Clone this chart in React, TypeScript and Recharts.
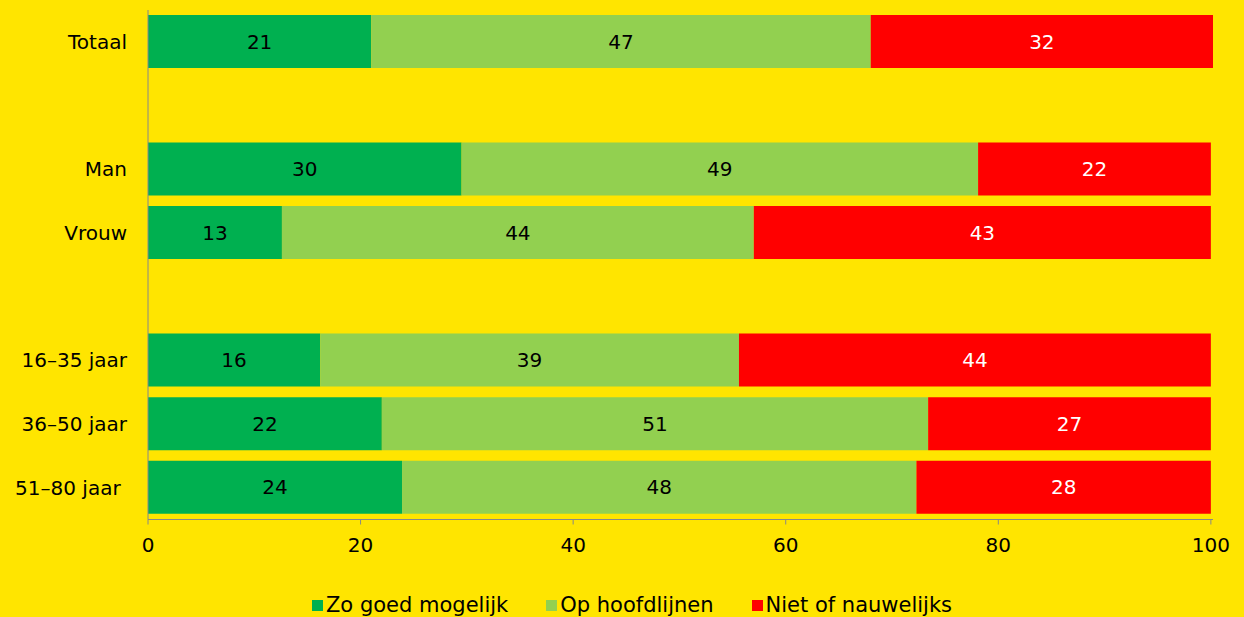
import React from "react"
import { BarChart, Bar, XAxis, YAxis, Legend, LabelList } from "recharts"

const categories = ["Totaal", " ", "Man", "Vrouw", "  ", "16–35 jaar", "36–50 jaar", "51–80 jaar\u00A0"]
const zoGoed = [21.0, null, 29.5, 12.6, null, 16.2, 22.0, 23.9]
const opHoofdlijnen = [47.0, null, 48.6, 44.4, null, 39.4, 51.4, 48.4]
const nietOfNauwelijks = [32.2, null, 21.9, 43.0, null, 44.4, 26.6, 27.7]
const xTicks = [0, 20, 40, 60, 80, 100]

const series = [
  { key: "zo", name: "Zo goed mogelijk", color: "#00B050", label: "#000000" },
  { key: "op", name: "Op hoofdlijnen", color: "#92D050", label: "#000000" },
  { key: "niet", name: "Niet of nauwelijks", color: "#FF0000", label: "#FFFFFF" },
]

const data = categories.map((name, i) => ({
  name,
  zo: zoGoed[i],
  op: opHoofdlijnen[i],
  niet: nietOfNauwelijks[i],
}))

const FONT = "'DejaVu Sans', sans-serif"

function ChartLegend() {
  return (
    <div
      style={{
        height: 24,
        display: "flex",
        justifyContent: "center",
        alignItems: "center",
        gap: 38,
        paddingLeft: 51,
        fontFamily: FONT,
        fontSize: 21,
        color: "#000",
      }}
    >
      {series.map((s) => (
        <span key={s.key} style={{ display: "flex", alignItems: "center" }}>
          <span style={{ width: 11, height: 11, background: s.color, marginRight: 3 }} />
          {s.name}
        </span>
      ))}
    </div>
  )
}

const fmt = (v: any) => (v == null ? "" : Math.round(Number(v)))

export default function App() {
  return (
    <div style={{ position: "absolute", left: 0, top: 0, width: 1244, height: 617, background: "#FFE500" }}>
      <BarChart
        width={1244}
        height={617}
        data={data}
        layout="vertical"
        margin={{ top: 10, right: 31, left: 0, bottom: 0 }}
        barSize={53}
        style={{ fontFamily: FONT }}
      >
        <XAxis
          type="number"
          domain={[0, 100]}
          ticks={xTicks}
          height={73.5}
          stroke="#888888"
          tickSize={5}
          tickMargin={13}
          tick={{ fill: "#000", fontSize: 20 }}
          interval={0}
        />
        <YAxis
          type="category"
          dataKey="name"
          width={148}
          stroke="#888888"
          tickLine={false}
          tickMargin={15}
          tick={{ fill: "#000", fontSize: 20 }}
          interval={0}
        />
        <Legend verticalAlign="bottom" content={() => <ChartLegend />} />
        {series.map((s) => (
          <Bar key={s.key} dataKey={s.key} name={s.name} stackId="a" fill={s.color} isAnimationActive={false}>
            <LabelList dataKey={s.key} position="center" fill={s.label} fontSize={20} formatter={fmt} />
          </Bar>
        ))}
      </BarChart>
    </div>
  )
}
